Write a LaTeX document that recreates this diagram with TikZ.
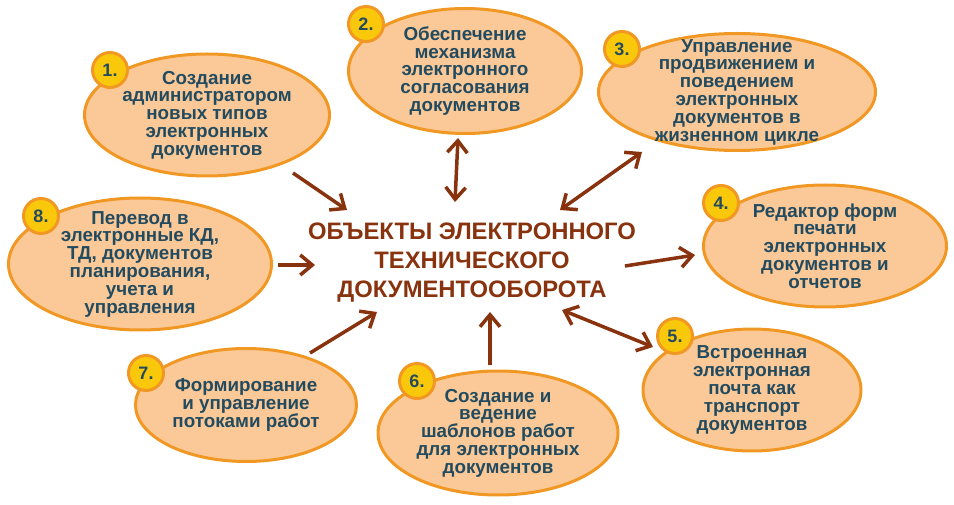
\documentclass[tikz,border=0pt]{standalone}
\usepackage{fontspec}
\setmainfont{Liberation Sans}
\usetikzlibrary{arrows.meta}
\usetikzlibrary{shapes.geometric}
\definecolor{peach}{RGB}{251,201,152}
\definecolor{rim}{RGB}{241,152,36}
\definecolor{gold}{RGB}{250,200,10}
\definecolor{ink}{RGB}{35,75,95}
\definecolor{rust}{RGB}{136,50,14}

\begin{document}
\begin{tikzpicture}
	[x=1pt,y=-1pt,
	blob/.style={ellipse,draw=rim,fill=peach,line width=3pt,inner sep=-30pt,align=center,text=ink,font=\fontsize{18.8}{17.8}\selectfont\bfseries},
	badge/.style={circle,draw=rim,fill=gold,line width=3pt,minimum size=35pt,inner sep=0pt,text=ink,font=\fontsize{18}{18}\selectfont\bfseries},
	hub/.style={align=center,text=rust,font=\fontsize{23.8}{29}\selectfont\bfseries},
	link/.style={draw=rust,line width=3.5pt},
	>={Straight Barb[length=12pt,width=20pt]}]
	\useasboundingbox (0,0) rectangle (954,505);

	\node[blob,minimum width=245pt,minimum height=122pt] (e1) at (207,115) {Создание\\администратором\\новых типов\\электронных\\документов};
	\node[blob,minimum width=233pt,minimum height=125pt] (e2) at (465,71) {Обеспечение\\механизма\\электронного\\согласования\\документов};
	\node[blob,minimum width=277pt,minimum height=117pt] (e3) at (737,92) {Управление\\продвижением и\\поведением\\электронных\\документов в\\жизненном цикле};
	\node[blob,minimum width=243pt,minimum height=122pt] (e4) at (825,246) {Редактор форм\\печати\\электронных\\документов и\\отчетов};
	\node[blob,minimum width=218pt,minimum height=122pt] (e5) at (752,390) {Встроенная\\электронная\\почта как\\транспорт\\документов};
	\node[blob,minimum width=240pt,minimum height=124pt] (e6) at (498,433) {Создание и\\ведение\\шаблонов работ\\для электронных\\документов};
	\node[blob,minimum width=221pt,minimum height=113pt] (e7) at (246,405) {Формирование\\и управление\\потоками работ};
	\node[blob,minimum width=263pt,minimum height=132pt] (e8) at (140,264) {Перевод в\\электронные КД,\\ТД, документов\\планирования,\\учета и\\управления};

	\node[badge] (b1) at (110,70) {1.};
	\node[badge] (b2) at (366,24) {2.};
	\node[badge] (b3) at (622,49) {3.};
	\node[badge] (b4) at (721,203) {4.};
	\node[badge] (b5) at (675,336) {5.};
	\node[badge] (b6) at (417,381) {6.};
	\node[badge] (b7) at (146,373) {7.};
	\node[badge] (b8) at (41,216) {8.};

	\node[hub] (hub) at (472,263) {ОБЪЕКТЫ ЭЛЕКТРОННОГО\\ТЕХНИЧЕСКОГО\\ДОКУМЕНТООБОРОТА};

	\coordinate (t1) at (293,173); \coordinate (h1) at (347,210);
	\coordinate (t2) at (458,138); \coordinate (h2) at (455,202);
	\coordinate (t3) at (642,152); \coordinate (h3) at (560,210);
	\coordinate (t4) at (625,266); \coordinate (h4) at (695,255);
	\coordinate (t5) at (653,347); \coordinate (h5) at (562,310);
	\coordinate (t6) at (490,365); \coordinate (h6) at (490,312);
	\coordinate (t7) at (310,353); \coordinate (h7) at (377,312);
	\coordinate (t8) at (278,265); \coordinate (h8) at (315,265);

	\draw[link,->] (t1) -- (h1);
	\draw[link,<->] (t2) -- (h2);
	\draw[link,<->] (t3) -- (h3);
	\draw[link,->] (t4) -- (h4);
	\draw[link,<->] (t5) -- (h5);
	\draw[link,->] (t6) -- (h6);
	\draw[link,->] (t7) -- (h7);
	\draw[link,->] (t8) -- (h8);
\end{tikzpicture}
\end{document}
